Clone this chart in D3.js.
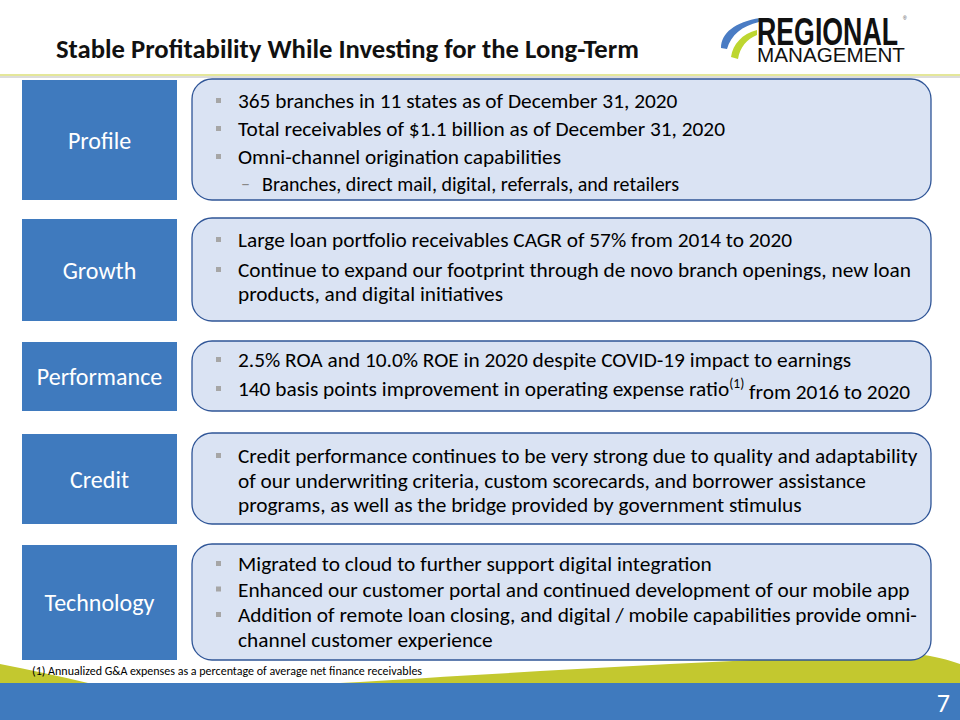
<!DOCTYPE html>
<html><head><meta charset="utf-8">
<script src="https://cdn.jsdelivr.net/npm/d3@7"></script>
<style>html,body{margin:0;padding:0;background:#fff;}svg{display:block;}</style>
</head><body>
<script>
const title = "Stable Profitability While Investing for the Long-Term";
const categories = ["Profile", "Growth", "Performance", "Credit", "Technology"];
const profileBullets = [
  ["365 branches in 11 states as of December 31, 2020"],
  ["Total receivables of $1.1 billion as of December 31, 2020"],
  ["Omni-channel origination capabilities"]
];
const profileSub = ["Branches, direct mail, digital, referrals, and retailers"];
const growthBullets = [
  ["Large loan portfolio receivables CAGR of 57% from 2014 to 2020"],
  ["Continue to expand our footprint through de novo branch openings, new loan", "products, and digital initiatives"]
];
const performanceBullets = [
  ["2.5% ROA and 10.0% ROE in 2020 despite COVID-19 impact to earnings"],
  ["140 basis points improvement in operating expense ratio|(1)| from 2016 to 2020"]
];
const creditBullets = [
  ["Credit performance continues to be very strong due to quality and adaptability", "of our underwriting criteria, custom scorecards, and borrower assistance", "programs, as well as the bridge provided by government stimulus"]
];
const technologyBullets = [
  ["Migrated to cloud to further support digital integration"],
  ["Enhanced our customer portal and continued development of our mobile app"],
  ["Addition of remote loan closing, and digital / mobile capabilities provide omni-", "channel customer experience"]
];
const footnote = "(1) Annualized G&A expenses as a percentage of average net finance receivables";
const pageNumber = "7";

const W = 960, H = 720;
const FONT = "Carlito, Calibri, Lato, 'Open Sans', sans-serif";
const svg = d3.select("body").append("svg").attr("width", W).attr("height", H);

// layout (positions)
const rows = [
  {cat: categories[0], top: 79, h: 121, bullets: profileBullets, sub: profileSub, firstY: 101},
  {cat: categories[1], top: 218, h: 103, bullets: growthBullets, sub: null, firstY: 240},
  {cat: categories[2], top: 341, h: 70, bullets: performanceBullets, sub: null, firstY: 360},
  {cat: categories[3], top: 433, h: 91, bullets: creditBullets, sub: null, firstY: 456},
  {cat: categories[4], top: 544, h: 116, bullets: technologyBullets, sub: null, firstY: 564}
];
const gapWithin = {Profile: 28, Growth: 24, Performance: 29, Credit: 24.5, Technology: 25};
const gapBetween = {Profile: 28, Growth: 30, Performance: 29, Credit: 25, Technology: 25.5};

// bottom decorations
const green = "#C3C82F", blue = "#3F7ABE";
svg.append("path").attr("fill", green)
  .attr("d", "M0,664 C30,670 60,676 88,683 L0,683 Z");
svg.append("path").attr("fill", green)
  .attr("d", "M340,683 C520,672 760,658 915,654 C935,656 948,660 960,664 L960,683 Z");
svg.append("rect").attr("x", 0).attr("y", 683).attr("width", W).attr("height", 37).attr("fill", blue);
svg.append("text").attr("x", 950).attr("y", 712).attr("text-anchor", "end")
  .attr("font-family", FONT).attr("font-size", 26).attr("fill", "#fff").text(pageNumber);

// header line
svg.append("rect").attr("x", 0).attr("y", 76).attr("width", W).attr("height", 2).attr("fill", "#dcdcdc");
svg.append("rect").attr("x", 0).attr("y", 74).attr("width", W).attr("height", 2).attr("fill", "#E4E79A");

// title
svg.append("text").attr("x", 56).attr("y", 58).attr("font-family", FONT)
  .attr("font-weight", "bold").attr("font-size", 26.67).attr("fill", "#111").text(title);

// logo
const logo = svg.append("g");
logo.append("path").attr("fill", "#4A7CC4")
  .attr("d", "M721,48 C721,33 735,22 760,18 L759,22 C742,26 731,35 727,49 Z");
logo.append("path").attr("fill", "#BDD630")
  .attr("d", "M731,57 C733,44 742,34 757,30 L757,35 C747,39 740,47 738,59 Z");
logo.append("text").attr("transform", "translate(757,45) scale(1,1.45)")
  .attr("font-family", "'Liberation Sans', Arial, sans-serif")
  .attr("font-weight", "bold").attr("font-size", 26.5).attr("fill", "#111")
  .attr("textLength", 141).attr("lengthAdjust", "spacingAndGlyphs").text("REGIONAL");
logo.append("text").attr("x", 903).attr("y", 20).attr("font-family", "'Liberation Sans', Arial, sans-serif")
  .attr("font-size", 5).attr("fill", "#444").text("®");
logo.append("text").attr("x", 757).attr("y", 62).attr("font-family", "'Liberation Sans', Arial, sans-serif")
  .attr("font-size", 20.5).attr("fill", "#111")
  .attr("textLength", 148).attr("lengthAdjust", "spacingAndGlyphs").text("MANAGEMENT");

// rows
const g = svg.selectAll("g.row").data(rows).join("g").attr("class", "row");
g.append("rect").attr("x", 22).attr("y", d => d.top + 1).attr("width", 155).attr("height", d => d.h - 1).attr("fill", blue);
g.append("text").attr("x", 99.5).attr("y", d => d.top + 1 + d.h / 2).attr("dy", "0.35em")
  .attr("text-anchor", "middle").attr("font-family", FONT).attr("font-size", 24).attr("fill", "#fff")
  .text(d => d.cat);
g.append("rect").attr("x", 192).attr("y", d => d.top).attr("width", 739).attr("height", d => d.h)
  .attr("rx", 20).attr("ry", 20).attr("fill", "#DAE3F3").attr("stroke", "#2F5597").attr("stroke-width", 1.3);

const TEXT_SIZE = 21.33;
g.each(function(d) {
  const sel = d3.select(this);
  let y = d.firstY;
  d.bullets.forEach((lines, bi) => {
    if (bi > 0) y += gapBetween[d.cat];
    sel.append("rect").attr("x", 216).attr("y", y - 3).attr("width", 5).attr("height", 5).attr("fill", "#A6A6A6");
    lines.forEach((line, li) => {
      if (li > 0) y += gapWithin[d.cat];
      const t = sel.append("text").attr("x", 238).attr("y", y).attr("dy", "0.35em")
        .attr("font-family", FONT).attr("font-size", TEXT_SIZE).attr("fill", "#000");
      const parts = line.split("|");
      parts.forEach((p, pi) => {
        if (pi === 1) {
          t.append("tspan").attr("font-size", 13.5).attr("dy", "-0.6em").text(p);
        } else if (pi === 2) {
          t.append("tspan").attr("dy", "0.5em").text(p);
        } else t.append("tspan").text(p);
      });
    });
  });
  if (d.sub) {
    y += gapWithin[d.cat] - 1;
    d.sub.forEach(s => {
      sel.append("text").attr("x", 241).attr("y", y).attr("dy", "0.35em").attr("font-family", FONT)
        .attr("font-size", 18).attr("fill", "#888").text("–");
      sel.append("text").attr("x", 262).attr("y", y).attr("dy", "0.35em").attr("font-family", FONT)
        .attr("font-size", 20).attr("fill", "#000").text(s);
    });
  }
});

// footnote
svg.append("text").attr("x", 32).attr("y", 671).attr("dy", "0.35em").attr("font-family", FONT)
  .attr("font-size", 12).attr("fill", "#000").text(footnote);
</script>
</body></html>
